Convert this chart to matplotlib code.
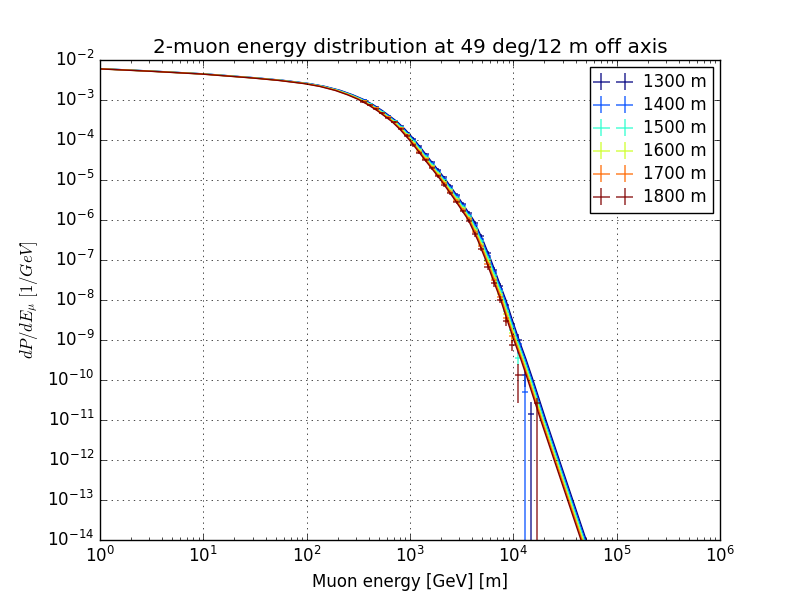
import matplotlib
matplotlib.use("Agg")
import matplotlib.pyplot as plt
import matplotlib.ticker as mticker
import numpy as np

plt.style.use("classic")

# profundidades (m) e cores (jet)
profundidades = [1300, 1400, 1500, 1600, 1700, 1800]
cores = [plt.cm.jet(v) for v in [0.0, 0.2, 0.4, 0.6, 0.8, 1.0]]

# bordas dos bins de energia (GeV)
bordas_bins = [331.1, 380.2, 436.5, 501.2, 575.4, 660.7, 758.6, 871.0, 1000.0,
               1148.2, 1318.3, 1513.6, 1737.8, 1995.3, 2290.9, 2630.3, 3020.0,
               3467.4, 3981.1, 4570.9, 5248.1, 6025.6, 6918.3, 7943.3, 9120.1,
               10471.3, 12022.6, 13803.8, 15848.9, 18197.0]

# log10(dP/dE) medido em cada bin (None = bin vazio)
logy_1300 = [-3.00, -3.09, -3.18, -3.29, -3.40, -3.52, -3.655, -3.825, -3.97, -4.16,
             -4.35, -4.55, -4.75, -4.935, -5.145, -5.365, -5.595, -5.825, -6.08, -6.40,
             -6.83, -7.24, -7.65, -8.12, -8.59, -9.0, -9.875, -10.85, None]
logy_1400 = [-3.008, -3.098, -3.188, -3.298, -3.408, -3.528, -3.67, -3.84, -4.0, -4.19,
             -4.38, -4.58, -4.78, -4.973, -5.183, -5.403, -5.633, -5.863, -6.137, -6.464,
             -6.9, -7.31, -7.72, -8.2, -8.67, -9.1, -10.3, None, None]
logy_1500 = [-3.016, -3.106, -3.196, -3.306, -3.416, -3.536, -3.683, -3.853, -4.034, -4.224,
             -4.414, -4.614, -4.814, -5.011, -5.221, -5.441, -5.671, -5.901, -6.192, -6.528,
             -6.965, -7.375, -7.785, -8.28, -8.75, -9.45, None, None, None]
logy_1600 = [-3.024, -3.114, -3.204, -3.314, -3.424, -3.544, -3.697, -3.867, -4.066, -4.256,
             -4.446, -4.646, -4.846, -5.049, -5.259, -5.479, -5.709, -5.939, -6.248, -6.592,
             -7.035, -7.445, -7.855, -8.36, -8.83, None, None, None, None]
logy_1700 = [-3.032, -3.122, -3.212, -3.322, -3.432, -3.552, -3.71, -3.88, -4.10, -4.29,
             -4.48, -4.68, -4.88, -5.087, -5.297, -5.517, -5.747, -5.977, -6.303, -6.656,
             -7.10, -7.51, -7.92, -8.44, -8.91, None, None, None, None]
logy_1800 = [-3.04, -3.13, -3.22, -3.33, -3.44, -3.56, -3.725, -3.895, -4.13, -4.32,
             -4.51, -4.71, -4.91, -5.125, -5.335, -5.555, -5.785, -6.015, -6.36, -6.72,
             -7.17, -7.58, -7.99, -8.52, -9.12, -9.875, None, None, -10.575]
series_logy = [logy_1300, logy_1400, logy_1500, logy_1600, logy_1700, logy_1800]

# erro relativo comum (primeiros 25 bins)
erro_rel = [0.06, 0.06, 0.06, 0.06, 0.06, 0.06, 0.08, 0.08, 0.08, 0.08,
            0.08, 0.08, 0.1, 0.1, 0.1, 0.1, 0.1, 0.12, 0.12, 0.12,
            0.15, 0.18, 0.2, 0.25, 0.3]
# erros relativos dos 4 ultimos bins (baixo / alto)
cauda_lo = [[0.45, 0.5, 1.0, 0], [0.45, 1.0, 0, 0], [0.35, 0, 0, 0],
            [0, 0, 0, 0], [0, 0, 0, 0], [0.8, 0, 0, 1.0]]
cauda_hi = [[0.45, 0.5, 1.0, 0], [0.45, 1.66, 0, 0], [0.35, 0, 0, 0],
            [0, 0, 0, 0], [0, 0, 0, 0], [0.9, 0, 0, 0.33]]

# curva ajustada (log10 E, log10 dP/dE)
linha_logx = [-0.1, 0.0, 0.5, 1.0, 1.5, 1.75, 2.0, 2.15, 2.3, 2.42, 2.52, 2.62,
              2.71, 2.85, 2.93, 3.016, 3.09, 3.17, 3.25, 3.323, 3.46, 3.59, 3.68,
              3.758, 3.83, 3.903, 3.965, 4.03, 4.10, 4.165, 4.29, 4.42, 4.55,
              4.68, 4.81]
linha_logy = [-2.21, -2.22, -2.28, -2.35, -2.45, -2.51, -2.59, -2.66, -2.76, -2.87,
              -2.98, -3.12, -3.27, -3.54, -3.74, -3.99, -4.23, -4.5, -4.76, -5.0,
              -5.5, -6.0, -6.5, -7.0, -7.5, -8.0, -8.5, -9.0, -9.5, -10.0, -11.0,
              -12.0, -13.0, -14.0, -15.0]
# deslocamento (dex em x) da curva de cada profundidade
deslocamento = [0.025, 0.015, 0.005, -0.005, -0.015, -0.025]


fig, ax = plt.subplots(figsize=(8, 6), dpi=100)
ax.set_xscale("log")
ax.set_yscale("log")

bordas = np.array(bordas_bins)
centros = np.sqrt(bordas[:-1] * bordas[1:])

for i, prof in enumerate(profundidades):
    logy = np.array([np.nan if v is None else v for v in series_logy[i]])
    y = 10 ** logy
    rel_lo = np.array(erro_rel + cauda_lo[i])
    rel_hi = np.array(erro_rel + cauda_hi[i])
    ok = ~np.isnan(y)
    xerr = [(centros - bordas[:-1])[ok], (bordas[1:] - centros)[ok]]
    yerr = [(y * rel_lo)[ok], (y * rel_hi)[ok]]
    ax.errorbar(centros[ok], y[ok], xerr=xerr, yerr=yerr, fmt="none",
                ecolor=cores[i], elinewidth=1.2, capsize=0, alpha=0.75,
                label=f"{prof} m")
    ax.plot(10 ** (np.array(linha_logx) + deslocamento[i]),
            10 ** np.array(linha_logy), color=cores[i], lw=1.0)

ax.set_xlim(1, 1e6)
ax.set_ylim(1e-14, 1e-2)
ax.yaxis.set_major_locator(mticker.LogLocator(base=10, numticks=20))
ax.grid(True)
ax.set_title("2-muon energy distribution at 49 deg/12 m off axis")
ax.set_xlabel("Muon energy [GeV] [m]")
ax.set_ylabel(r"$dP/dE_{\mu}\ [1/GeV]$")
ax.legend(loc="upper right", numpoints=2, fontsize=12, labelspacing=0.3,
          borderaxespad=0.4)

fig.savefig("out.png", dpi=100)
